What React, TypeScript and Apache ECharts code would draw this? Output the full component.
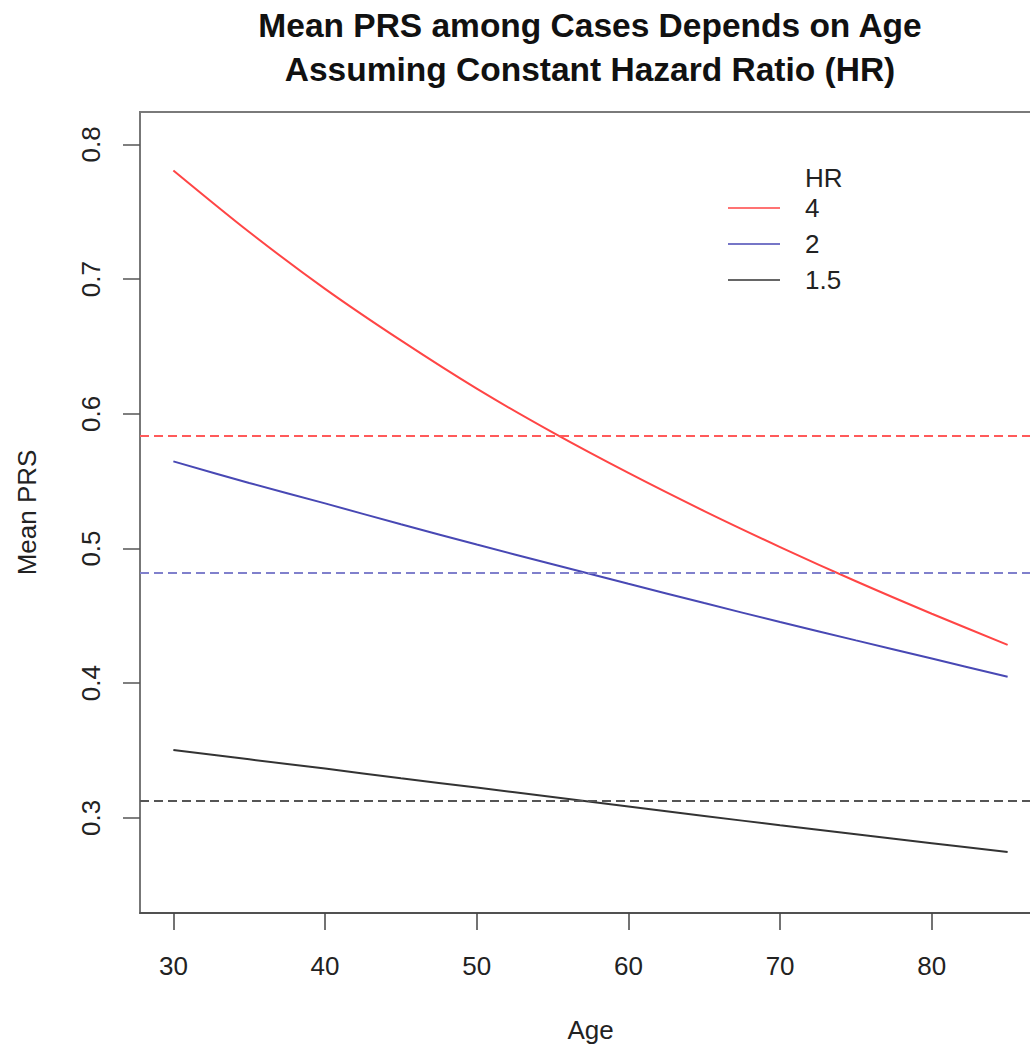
import React, { useEffect, useRef } from "react";
import * as echarts from "echarts";

const ages = [30, 35, 40, 45, 50, 55, 60, 65, 70, 75, 80, 85];
const prsHR4 = [0.7807, 0.735, 0.6928, 0.6545, 0.6187, 0.5862, 0.5561, 0.5278, 0.5011, 0.4757, 0.4516, 0.4285];
const prsHR2 = [0.5647, 0.5487, 0.5335, 0.518, 0.503, 0.4883, 0.4738, 0.4595, 0.4454, 0.4318, 0.4183, 0.4048];
const prsHR15 = [0.3505, 0.3435, 0.3366, 0.3295, 0.3225, 0.3155, 0.3085, 0.3015, 0.2945, 0.2878, 0.2812, 0.2747];
const refLevels = [0.584, 0.4823, 0.3126];
const hrNames = ["4", "2", "1.5"];
const xTicks = [30, 40, 50, 60, 70, 80];
const yTicks = [0.3, 0.4, 0.5, 0.6, 0.7, 0.8];

const curveColors = ["#ff4545", "#4848b4", "#333333"];
const dashColors = ["#ff5a5a", "#8080cc", "#555555"];
const FONT = '"Liberation Sans", Arial, Helvetica, sans-serif';

export default function App() {
  const ref = useRef<HTMLDivElement>(null);
  useEffect(() => {
    if (!ref.current) return;
    const chart = echarts.init(ref.current, null, { renderer: "svg" });
    const seriesVals = [prsHR4, prsHR2, prsHR15];
    const series = seriesVals.map((vals, i) => ({
      type: "line",
      name: hrNames[i],
      data: ages.map((a, j) => [a, vals[j]]),
      showSymbol: false,
      smooth: 0.3,
      lineStyle: { color: curveColors[i], width: 2 },
      itemStyle: { color: curveColors[i] },
      markLine: {
        silent: true,
        precision: 4,
        symbol: ["none", "none"],
        label: { show: false },
        lineStyle: { color: dashColors[i], width: 2.2, type: [9, 5] },
        data: [{ yAxis: refLevels[i] }],
      },
    }));
    const legendTop = 208;
    const legendStep = 36;
    const graphic: any[] = [
      {
        type: "text",
        style: { text: "HR", x: 805, y: 178, font: `26px ${FONT}`, fill: "#222", verticalAlign: "middle" },
      },
    ];
    hrNames.forEach((n, i) => {
      const y = legendTop + i * legendStep;
      graphic.push({
        type: "line",
        shape: { x1: 728, y1: y, x2: 780, y2: y },
        style: { stroke: curveColors[i], lineWidth: 1.5 },
      });
      graphic.push({
        type: "text",
        style: { text: n, x: 805, y, font: `26px ${FONT}`, fill: "#222", verticalAlign: "middle" },
      });
    });
    chart.setOption({
      animation: false,
      backgroundColor: "#fff",
      title: {
        text: "Mean PRS among Cases Depends on Age\nAssuming Constant Hazard Ratio (HR)",
        left: 590,
        top: 3,
        padding: 0,
        textAlign: "center",
        textStyle: { fontSize: 33.5, fontWeight: "bold", lineHeight: 44, color: "#111", fontFamily: FONT },
      },
      grid: {
        left: 140,
        top: 112,
        width: 901,
        height: 801,
        show: true,
        borderColor: "#7a7a7a",
        borderWidth: 2,
        containLabel: false,
        outerBoundsMode: "none",
      },
      xAxis: {
        type: "value",
        min: 27.8,
        max: 87.2,
        splitLine: { show: false },
        axisLine: { show: true, lineStyle: { color: "#444", width: 1.5 } },
        axisTick: { show: true, length: 17, inside: false, customValues: xTicks, lineStyle: { color: "#444", width: 1.5 } },
        axisLabel: { customValues: xTicks, margin: 40, fontSize: 26, color: "#222", fontFamily: FONT },
        name: "Age",
        nameLocation: "middle",
        nameGap: 104,
        nameMoveOverlap: false,
        nameTextStyle: { fontSize: 26, color: "#222", fontFamily: FONT },
      },
      yAxis: {
        type: "value",
        min: 0.2294,
        max: 0.8241,
        splitLine: { show: false },
        axisLine: { show: true, lineStyle: { color: "#777", width: 1.5 } },
        axisTick: { show: true, length: 17, inside: false, customValues: yTicks, lineStyle: { color: "#555", width: 1.5 } },
        axisLabel: {
          customValues: yTicks,
          rotate: 90,
          margin: 36,
          fontSize: 26,
          color: "#222",
          fontFamily: FONT,
          formatter: (v: number) => v.toFixed(1),
        },
        name: "Mean PRS",
        nameLocation: "middle",
        nameGap: 100,
        nameMoveOverlap: false,
        nameTextStyle: { fontSize: 26, color: "#222", fontFamily: FONT },
      },
      series,
      graphic,
    } as any);
    return () => chart.dispose();
  }, []);
  return (
    <div
      style={{ position: "fixed", left: 0, top: 0, width: 1030, height: 1047, overflow: "hidden", background: "#fff" }}
    >
      <div ref={ref} style={{ width: 1050, height: 1047 }} />
    </div>
  );
}
